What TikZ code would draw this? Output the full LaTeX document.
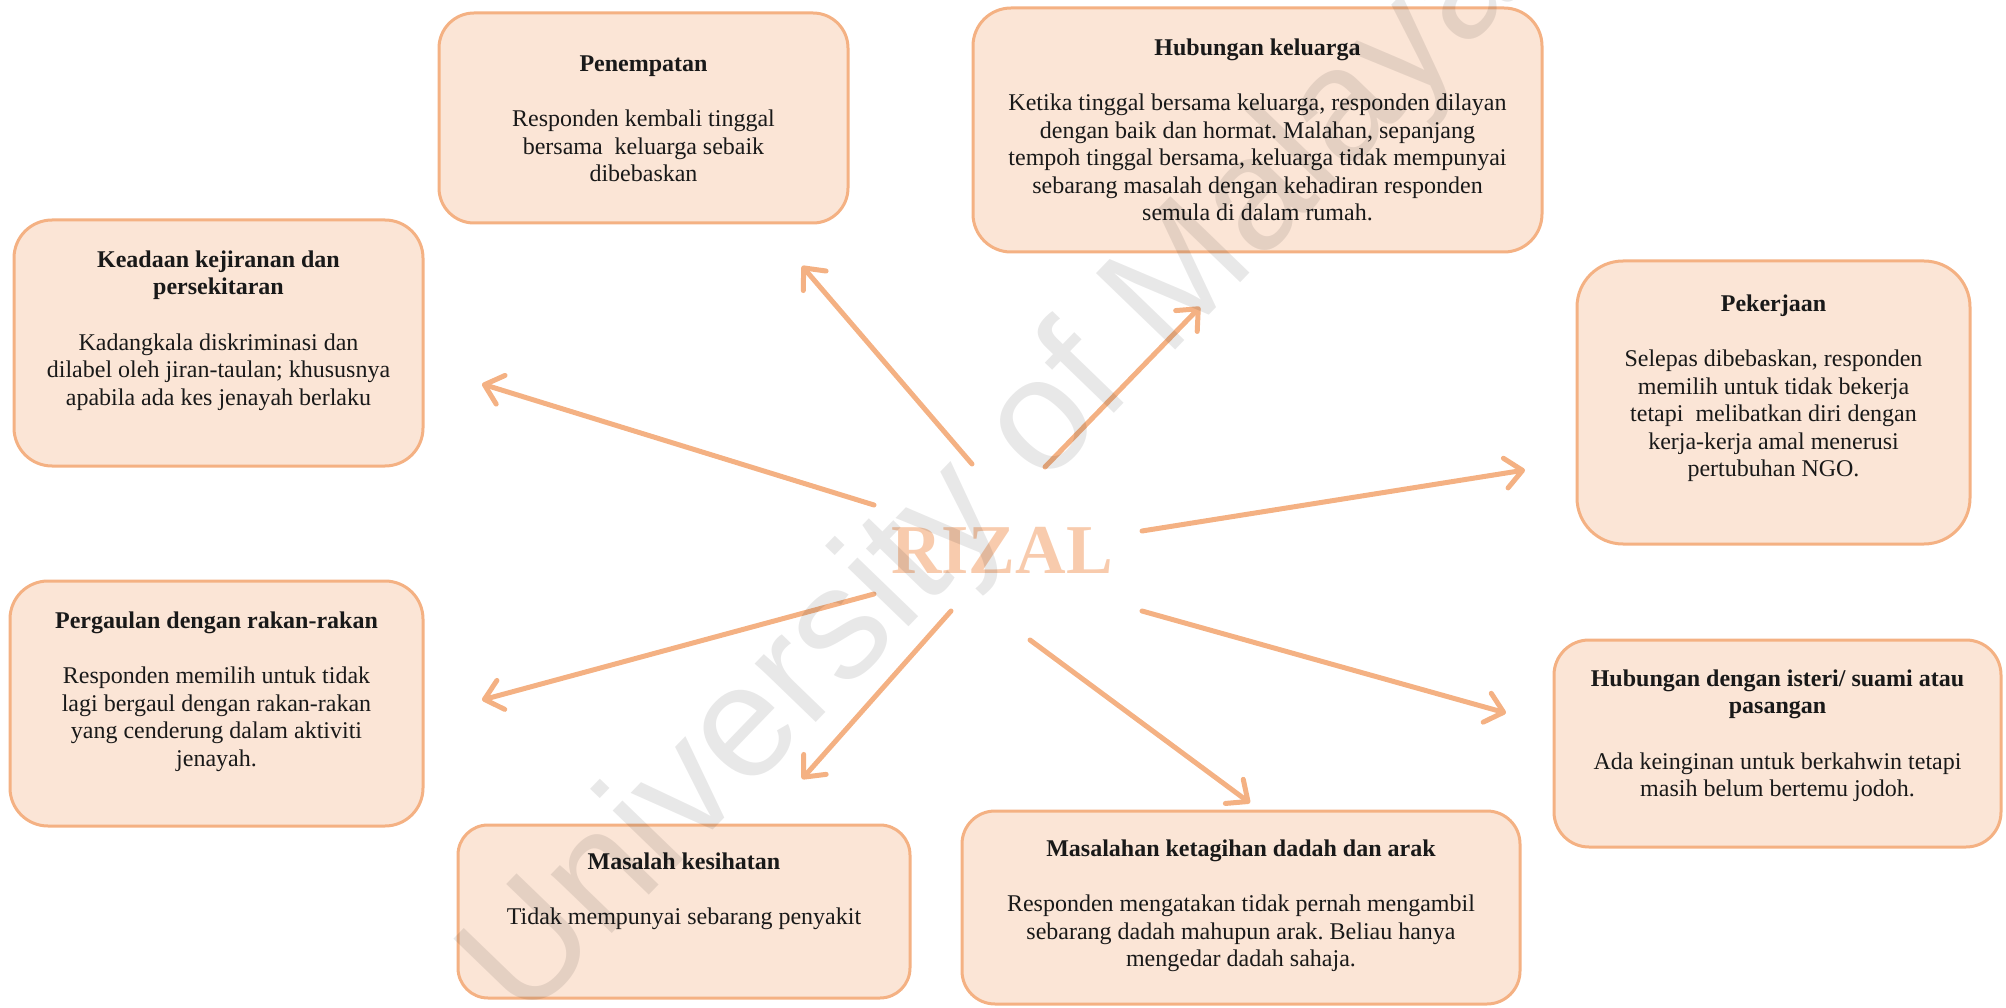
\documentclass[tikz,border=0pt]{standalone}
\usepackage{fontspec}
\setmainfont{Liberation Serif}
\newfontfamily\markfont{Liberation Sans}
\usetikzlibrary{arrows.meta, positioning}
\frenchspacing

\definecolor{boxfill}{HTML}{FBE5D6}
\definecolor{boxline}{HTML}{F4B183}
\definecolor{rizalorange}{HTML}{F8CBAD}

\begin{document}
\begin{tikzpicture}[
        x=1pt, y=-1pt,
        box/.style={rectangle, draw=boxline, fill=boxfill, line width=3pt, rounded corners=38pt, inner sep=0pt},
        boxtext/.style={inner sep=0pt, align=center, font=\fontsize{24}{27.6}\selectfont, text=black!90},
        flow/.style={-{Straight Barb[length=17pt, width=30pt, round]}, line width=5pt, line cap=round, draw=boxline},
        watermark/.style={font=\markfont\fontsize{160}{160}\selectfont, text=black, text opacity=0.09}
    ]
        \useasboundingbox (0,0) rectangle (2006,1008);

        % Boxes
        \node[box, minimum width=409pt, minimum height=210pt, rounded corners=35pt] (penempatan) at (643.5,118) {};
        \node[box, minimum width=569pt, minimum height=244pt] (keluarga) at (1257.5,130) {};
        \node[box, minimum width=409pt, minimum height=246pt] (kejiranan) at (218.5,343) {};
        \node[box, minimum width=393pt, minimum height=283pt, rounded corners=46pt] (pekerjaan) at (1773.5,402.5) {};
        \node[box, minimum width=413pt, minimum height=245pt] (pergaulan) at (216.5,703.5) {};
        \node[box, minimum width=447pt, minimum height=207pt, rounded corners=35pt] (isteri) at (1777.5,743.5) {};
        \node[box, minimum width=452pt, minimum height=173pt, rounded corners=30pt] (kesihatan) at (684,911.5) {};
        \node[box, minimum width=558pt, minimum height=193pt, rounded corners=33pt] (ketagihan) at (1241,907.5) {};

        % Box texts
        \node[boxtext, below=44pt of penempatan.north] (penempatan-txt) {\textbf{Penempatan}\\[27.6pt]
            Responden kembali tinggal\\ bersama\ \ keluarga sebaik\\ dibebaskan};
        \node[boxtext, below=32pt of keluarga.north] (keluarga-txt) {\textbf{Hubungan keluarga}\\[27.6pt]
            Ketika tinggal bersama keluarga, responden dilayan\\ dengan baik dan hormat. Malahan, sepanjang\\
            tempoh tinggal bersama, keluarga tidak mempunyai\\ sebarang masalah dengan kehadiran responden\\ semula di dalam rumah.};
        \node[boxtext, below=32pt of kejiranan.north] (kejiranan-txt) {\textbf{Keadaan kejiranan dan}\\ \textbf{persekitaran}\\[27.6pt]
            Kadangkala diskriminasi dan\\ dilabel oleh jiran-taulan; khususnya\\ apabila ada kes jenayah berlaku};
        \node[boxtext, below=35pt of pekerjaan.north] (pekerjaan-txt) {\textbf{Pekerjaan}\\[27.6pt]
            Selepas dibebaskan, responden\\ memilih untuk tidak bekerja\\ tetapi\ \ melibatkan diri dengan\\
            kerja-kerja amal menerusi\\ pertubuhan NGO.};
        \node[boxtext, below=32pt of pergaulan.north] (pergaulan-txt) {\textbf{Pergaulan dengan rakan-rakan}\\[27.6pt]
            Responden memilih untuk tidak\\ lagi bergaul dengan rakan-rakan\\ yang cenderung dalam aktiviti\\ jenayah.};
        \node[boxtext, below=31pt of isteri.north] (isteri-txt) {\textbf{Hubungan dengan isteri/ suami atau}\\ \textbf{pasangan}\\[27.6pt]
            Ada keinginan untuk berkahwin tetapi\\ masih belum bertemu jodoh.};
        \node[boxtext, below=29pt of kesihatan.north] (kesihatan-txt) {\textbf{Masalah kesihatan}\\[27.6pt]
            Tidak mempunyai sebarang penyakit};
        \node[boxtext, below=30pt of ketagihan.north] (ketagihan-txt) {\textbf{Masalahan ketagihan dadah dan arak}\\[27.6pt]
            Responden mengatakan tidak pernah mengambil\\ sebarang dadah mahupun arak. Beliau hanya\\ mengedar dadah sahaja.};

        % Centre
        \node[font=\fontsize{70}{80}\selectfont\bfseries, text=rizalorange] (rizal) at (1002,550) {RIZAL};

        % Arrow ends
        \coordinate (from-penempatan) at (972,464);  \coordinate (to-penempatan) at (802,266);
        \coordinate (from-keluarga) at (1045,467);   \coordinate (to-keluarga) at (1200,307);
        \coordinate (from-kejiranan) at (874,505);   \coordinate (to-kejiranan) at (482,384);
        \coordinate (from-pekerjaan) at (1142,531);  \coordinate (to-pekerjaan) at (1525,470);
        \coordinate (from-pergaulan) at (874,594);   \coordinate (to-pergaulan) at (482,700);
        \coordinate (from-isteri) at (1142,611);     \coordinate (to-isteri) at (1506,713);
        \coordinate (from-kesihatan) at (951,611);   \coordinate (to-kesihatan) at (802,779);
        \coordinate (from-ketagihan) at (1030,640);  \coordinate (to-ketagihan) at (1250,803);

        % Arrows
        \draw[flow] (from-penempatan) -- (to-penempatan);
        \draw[flow] (from-keluarga) -- (to-keluarga);
        \draw[flow] (from-kejiranan) -- (to-kejiranan);
        \draw[flow] (from-pekerjaan) -- (to-pekerjaan);
        \draw[flow] (from-pergaulan) -- (to-pergaulan);
        \draw[flow] (from-isteri) -- (to-isteri);
        \draw[flow] (from-kesihatan) -- (to-kesihatan);
        \draw[flow] (from-ketagihan) -- (to-ketagihan);

        % Watermark
        \node[watermark, rotate=46] (mark) at (995,478) {University of Malaya};

    \end{tikzpicture}
\end{document}
